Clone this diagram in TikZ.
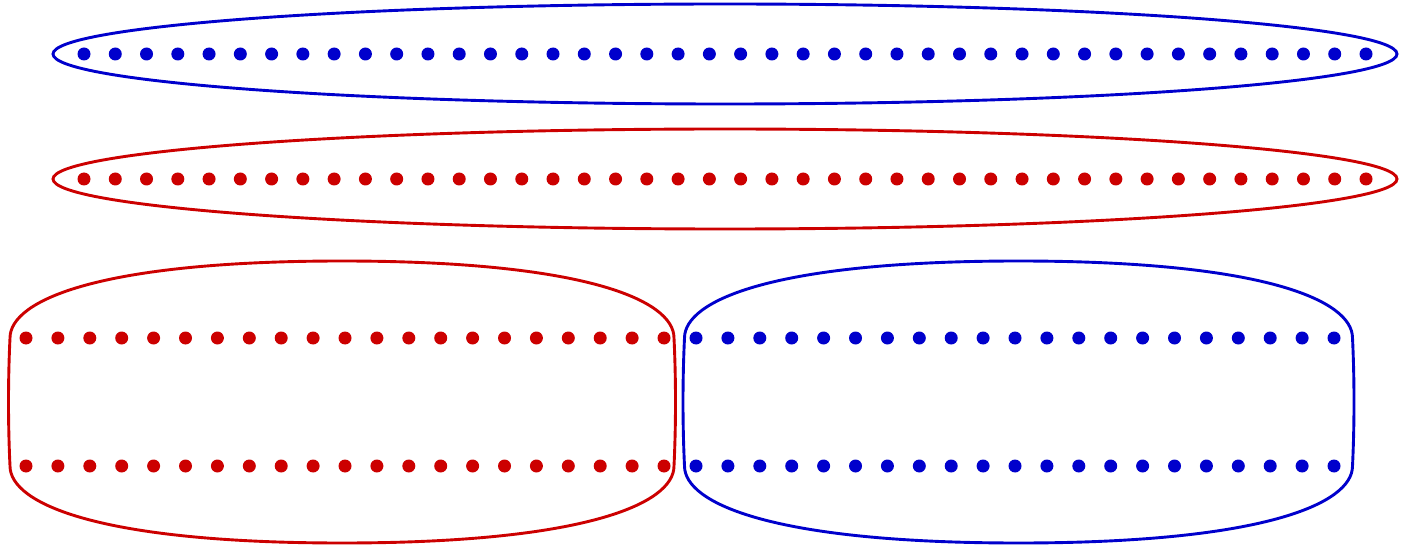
\documentclass[tikz,border=0pt]{standalone}
\usetikzlibrary{shapes.geometric}
\definecolor{myblue}{HTML}{0000CC}
\definecolor{myred}{HTML}{CC0000}
\tikzset{
  dotnode/.style={circle,fill=#1,inner sep=0pt,minimum size=13pt,draw=none},
  hull/.style={draw=#1,line width=2.9pt}
}
\begin{document}
\begin{tikzpicture}[x=1pt,y=-1pt]
\useasboundingbox (0,0) rectangle (1413,545);
% top ellipses
\draw[hull=myblue] (725,54) ellipse [x radius=672, y radius=50];
\draw[hull=myred] (725,179) ellipse [x radius=672, y radius=50];
\foreach \i in {0,...,41}{
  \node[dotnode=myblue] (b\i) at ({84+\i*31.268},54) {};
  \node[dotnode=myred] (r\i) at ({84+\i*31.268},179) {};
}
% bottom shapes
\foreach \cx/\hw/\col in {342/332/myred,1018.5/334/myblue}{
  \draw[hull=\col] (\cx-\hw,338)
    .. controls (\cx-\hw,300) and (\cx-\hw+90,261) .. (\cx,261)
    .. controls (\cx+\hw-90,261) and (\cx+\hw,300) .. (\cx+\hw,338)
    .. controls (\cx+\hw+2,380) and (\cx+\hw+2,424) .. (\cx+\hw,466)
    .. controls (\cx+\hw,504) and (\cx+\hw-90,543) .. (\cx,543)
    .. controls (\cx-\hw+90,543) and (\cx-\hw,504) .. (\cx-\hw,466)
    .. controls (\cx-\hw-2,424) and (\cx-\hw-2,380) .. cycle;
}
\foreach \i in {0,...,20}{
  \node[dotnode=myred] (lt\i) at ({26+\i*31.9},338) {};
  \node[dotnode=myred] (lb\i) at ({26+\i*31.9},466) {};
  \node[dotnode=myblue] (rt\i) at ({696+\i*31.9},338) {};
  \node[dotnode=myblue] (rb\i) at ({696+\i*31.9},466) {};
}
\end{tikzpicture}
\end{document}
